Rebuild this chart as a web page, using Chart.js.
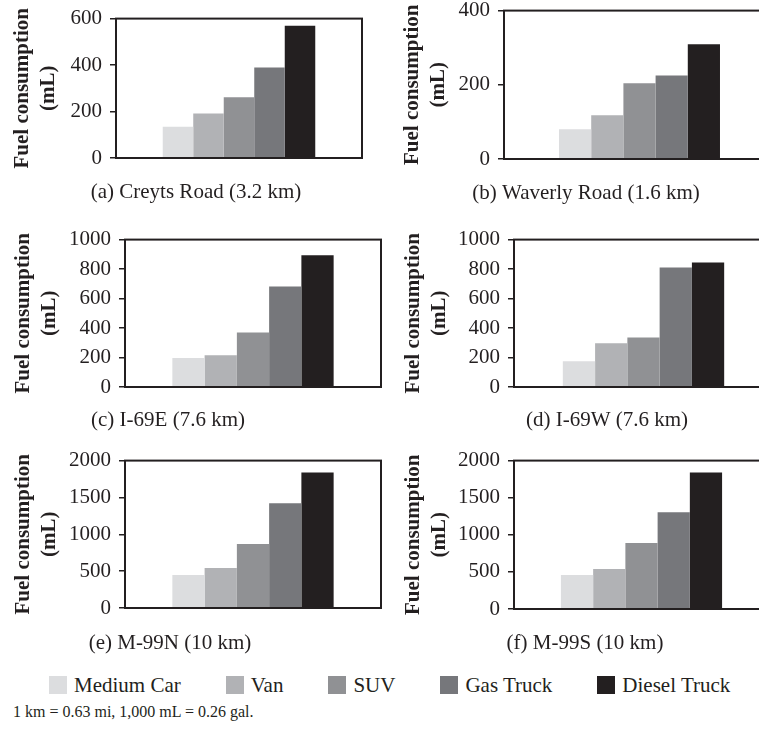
<!DOCTYPE html>
<html>
<head>
<meta charset="utf-8">
<title>Fuel consumption by road and vehicle</title>
<script src="https://cdn.jsdelivr.net/npm/chart.js@4.4.1/dist/chart.umd.min.js"></script>
<style>
    body { margin: 0; background: #fff; }
    #figure {
        position: relative;
        width: 759px;
        height: 731px;
        overflow: hidden;
        background: #fff;
        font-family: 'Liberation Serif', 'Times New Roman', serif;
        color: #231f20;
    }
    #figure canvas { position: absolute; }
    #legend {
        position: absolute;
        left: 49px;
        top: 676px;
        display: flex;
        gap: 45px;
        font-size: 21px;
        line-height: 18px;
        white-space: nowrap;
    }
    #legend .key { display: flex; align-items: center; }
    #legend .swatch { width: 18px; height: 18px; margin-right: 7px; }
    #note {
        position: absolute;
        left: 13px;
        top: 703px;
        font-size: 16px;
        line-height: 18px;
        white-space: nowrap;
    }
</style>
</head>
<body>
<div id="figure">
    <div id="legend"></div>
    <div id="note">1 km = 0.63 mi, 1,000 mL = 0.26 gal.</div>
</div>

<script>
// ==========================================
// DATA
// ==========================================

const vehicleTypes = ['Medium Car', 'Van', 'SUV', 'Gas Truck', 'Diesel Truck'];
const vehicleColors = ['#dcdddf', '#b1b2b5', '#909194', '#76777b', '#231f20'];

const roadCaptions = [
    '(a) Creyts Road (3.2 km)',
    '(b) Waverly Road (1.6 km)',
    '(c) I-69E (7.6 km)',
    '(d) I-69W (7.6 km)',
    '(e) M-99N (10 km)',
    '(f) M-99S (10 km)'
];

// fuel used per vehicle (mL), same order as vehicleTypes
const creytsRoad = [134, 192, 261, 389, 569];
const waverlyRoad = [80, 118, 204, 225, 309];
const i69East = [196, 215, 370, 682, 894];
const i69West = [174, 296, 336, 810, 844];
const m99North = [449, 544, 867, 1420, 1838];
const m99South = [459, 540, 888, 1303, 1839];

const axisMax = [600, 400, 1000, 1000, 2000, 2000];
const axisStep = [200, 200, 200, 200, 500, 500];

const roadValues = [creytsRoad, waverlyRoad, i69East, i69West, m99North, m99South];

// ==========================================
// LAYOUT (plot box per panel, page pixels)
// ==========================================

const INK = '#231f20';
const SERIF = "'Liberation Serif', 'Times New Roman', serif";

const panels = [
    { col: 0,   area: { l: 116, t: 18,  r: 362, b: 158 }, caption: { x: 196, y: 192 }, titleX: 22,  cat: 0.62 },
    { col: 380, area: { l: 504, t: 10,  r: 775, b: 159 }, caption: { x: 586, y: 193 }, titleX: 412, cat: 0.594 },
    { col: 0,   area: { l: 125, t: 239, r: 381, b: 387 }, caption: { x: 168, y: 420 }, titleX: 23,  cat: 0.63 },
    { col: 380, area: { l: 514, t: 239, r: 773, b: 387 }, caption: { x: 607, y: 420 }, titleX: 413, cat: 0.623 },
    { col: 0,   area: { l: 125, t: 460, r: 381, b: 608 }, caption: { x: 170, y: 643 }, titleX: 23,  cat: 0.63 },
    { col: 380, area: { l: 514, t: 460, r: 769, b: 609 }, caption: { x: 585, y: 643 }, titleX: 413, cat: 0.632 }
];

// ==========================================
// PLUGINS
// ==========================================

// closed box around the plot area
const framePlugin = {
    id: 'frame',
    afterDatasetsDraw(chart) {
        const { ctx, chartArea: a } = chart;
        ctx.save();
        ctx.strokeStyle = INK;
        ctx.lineWidth = 2;
        ctx.strokeRect(a.left, a.top, a.right - a.left, a.bottom - a.top);
        ctx.restore();
    }
};

// sub-figure caption under each panel
const captionPlugin = {
    id: 'caption',
    afterDraw(chart, args, opts) {
        const ctx = chart.ctx;
        ctx.save();
        ctx.fillStyle = INK;
        ctx.font = '21px ' + SERIF;
        ctx.textAlign = 'center';
        ctx.textBaseline = 'middle';
        ctx.fillText(opts.text, opts.x, opts.y);
        ctx.restore();
    }
};

// ==========================================
// CHARTS
// ==========================================

function buildPanel(index) {
    const p = panels[index];
    const values = roadValues[index];
    const figure = document.getElementById('figure');

    const canvasLeft = p.col;
    const canvasTop = p.area.t - 20;
    const width = p.area.r - canvasLeft + 8;
    const height = p.area.b - canvasTop + 60;

    const canvas = document.createElement('canvas');
    canvas.width = width;
    canvas.height = height;
    canvas.style.left = canvasLeft + 'px';
    canvas.style.top = canvasTop + 'px';
    figure.appendChild(canvas);

    const axisWidth = p.area.l - canvasLeft;

    new Chart(canvas, {
        type: 'bar',
        data: {
            labels: [''],
            datasets: vehicleTypes.map((name, i) => ({
                label: name,
                data: [values[i]],
                backgroundColor: vehicleColors[i],
                borderWidth: 0,
                categoryPercentage: p.cat,
                barPercentage: 1
            }))
        },
        options: {
            responsive: false,
            animation: false,
            layout: {
                padding: { left: 0, top: 20, right: 8, bottom: 60 }
            },
            plugins: {
                legend: { display: false },
                tooltip: { enabled: false },
                caption: {
                    text: roadCaptions[index],
                    x: p.caption.x - canvasLeft,
                    y: p.caption.y - canvasTop
                }
            },
            scales: {
                x: {
                    display: false,
                    offset: true
                },
                y: {
                    min: 0,
                    max: axisMax[index],
                    afterFit(scale) {
                        scale.width = axisWidth;
                    },
                    border: { display: false },
                    grid: {
                        drawOnChartArea: false,
                        drawTicks: true,
                        tickLength: 6,
                        color: INK,
                        lineWidth: 1.5
                    },
                    ticks: {
                        stepSize: axisStep[index],
                        padding: 8,
                        color: INK,
                        font: { family: SERIF, size: 21 },
                        // plain integers, no thousands separator
                        callback: (value) => String(value)
                    },
                    title: {
                        display: true,
                        text: ['Fuel consumption', '(mL)'],
                        color: INK,
                        font: { family: SERIF, size: 21, weight: 'bold', lineHeight: 1.25 },
                        padding: { top: p.titleX - canvasLeft - 13, bottom: 0 }
                    }
                }
            }
        },
        plugins: [framePlugin, captionPlugin]
    });
}

function buildLegend() {
    const legend = document.getElementById('legend');
    vehicleTypes.forEach((name, i) => {
        const key = document.createElement('span');
        key.className = 'key';
        const swatch = document.createElement('span');
        swatch.className = 'swatch';
        swatch.style.background = vehicleColors[i];
        key.appendChild(swatch);
        key.appendChild(document.createTextNode(name));
        legend.appendChild(key);
    });
}

buildLegend();
panels.forEach((p, i) => buildPanel(i));
</script>
</body>
</html>
